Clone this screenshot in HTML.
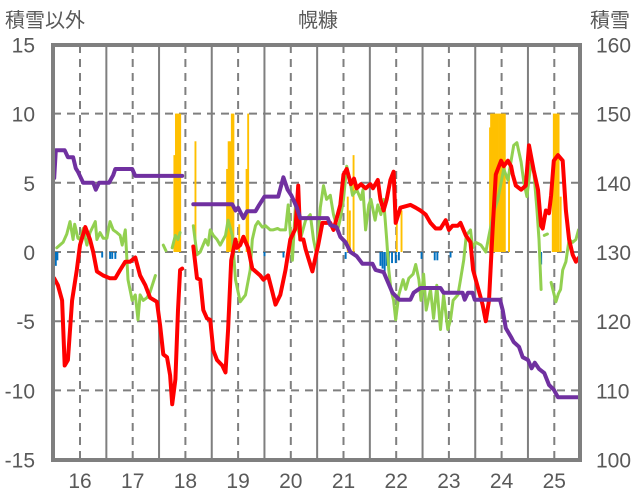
<!DOCTYPE html>
<html><head><meta charset="utf-8">
<style>
html,body{margin:0;padding:0;background:#fff;}
svg{display:block;font-family:"Liberation Sans","Noto Sans CJK JP",sans-serif;}
</style></head>
<body>
<svg id="chart" width="636" height="501" viewBox="0 0 636 501" xmlns="http://www.w3.org/2000/svg">
<defs><clipPath id="pc"><rect x="53" y="45" width="527" height="415"/></clipPath></defs>
<g id="grid"></g>
<g id="marks" clip-path="url(#pc)"></g>
<rect x="53" y="45" width="527" height="415" fill="none" stroke="#7f7f7f" stroke-width="4"/>
<g id="labels"></g>
<text x="5" y="27" font-size="20" fill="#595959">積雪以外</text>
<text x="318" y="27" font-size="20" fill="#595959" text-anchor="middle">幌糠</text>
<text x="590" y="27" font-size="20" fill="#595959">積雪</text>
</svg>
<script>
const yearTicks=[16,17,18,19,20,21,22,23,24,25];
const leftTicks=[15,10,5,0,-5,-10,-15];
const rightTicks=[160,150,140,130,120,110,100];
const redT=[15.51,15.58,15.66,15.71,15.77,15.85,15.94,16.00,16.10,16.19,16.25,16.32,16.44,16.57,16.67,16.76,16.86,16.95,17.05,17.14,17.24,17.33,17.46,17.52,17.58,17.65,17.71,17.75,17.81,17.86,17.90,17.94,null,
18.15,18.22,18.28,18.34,18.41,18.47,18.53,18.60,18.70,18.76,18.81,18.87,18.95,18.98,19.04,19.10,19.19,19.27,19.42,19.48,19.57,19.65,19.71,19.80,19.90,19.99,20.09,20.14,20.18,20.24,20.28,20.41,20.52,20.60,20.75,20.81,20.89,20.94,21.00,21.06,21.14,21.20,21.25,21.33,21.42,21.51,21.56,21.65,21.70,21.76,21.82,21.89,21.95,21.99,22.08,22.27,22.37,22.46,22.56,22.65,22.75,22.84,22.94,23.00,23.07,23.17,23.22,23.32,23.41,23.46,23.56,23.64,23.70,23.76,23.83,23.89,23.99,24.04,24.12,24.18,24.21,24.27,24.37,24.46,24.52,24.61,24.69,24.75,24.78,24.84,24.90,24.94,24.99,25.07,25.16,25.22,25.28,25.35,25.41,25.51];
const redV=[-1.9,-2.4,-3.5,-8.2,-7.8,-3.5,-1.3,0.5,1.8,0.9,0,-1.4,-1.7,-1.9,-1.9,-1.3,-0.7,-0.7,-0.4,-1.7,-2.4,-3.3,-3.6,-5.3,-7.4,-7.6,-8.9,-11.0,-9.2,-4.2,-1.3,-1.2,null,
0.4,-1.9,-2.0,-4.2,-4.8,-4.9,-7.1,-7.8,-8.2,-8.7,-5.6,-0.6,0.9,0.3,0.5,1.1,0.3,-1.2,-1.7,-2.0,-1.7,-2.9,-3.8,-3.1,-1.3,0.9,1.7,4.8,0.9,0.9,0.2,-1.4,0.5,2.1,2.1,1.6,2.7,3.4,5.6,6.0,4.9,5.3,4.6,4.9,4.6,4.9,4.6,5.2,3.8,3.0,3.8,5.2,5.8,2.1,3.2,3.4,3.2,3.0,2.7,2.1,1.7,1.7,2.3,1.6,1.9,1.9,2.1,1.2,0.7,-1.3,-2.7,-3.8,-5.0,-3.5,1.6,5.6,6.6,6.2,6.6,6.2,5.6,4.8,4.5,4.8,7.7,5.9,4.5,1.9,1.7,3.0,2.8,4.1,6.6,7.0,6.6,3.0,0.9,-0.2,-0.7,-0.2];
const greenT=[15.56,15.68,15.75,15.81,15.87,15.90,15.96,16.00,16.06,16.13,16.19,16.29,16.32,16.38,16.44,16.51,16.57,16.63,16.70,16.76,16.80,16.86,16.91,16.99,17.05,17.10,17.14,17.20,17.27,17.33,17.43,null,17.58,17.63,null,17.75,17.81,17.86,17.90,null,
18.15,18.22,18.28,18.38,18.43,18.47,18.53,18.60,18.66,18.76,18.81,18.89,18.95,19.04,19.14,19.23,19.27,19.33,19.38,19.46,19.52,19.61,19.66,19.75,19.80,19.90,19.95,20.03,20.09,20.14,20.18,20.28,20.37,20.43,20.49,20.56,20.62,20.68,20.75,20.81,20.89,20.94,21.00,21.06,21.12,21.17,21.25,21.33,21.37,21.42,21.48,21.52,21.60,21.65,21.71,21.76,21.82,21.86,21.90,21.95,21.99,22.05,22.13,22.18,22.24,22.32,22.37,22.43,22.47,22.52,22.57,22.65,22.71,22.77,22.84,22.90,22.98,23.03,23.08,23.17,23.22,23.28,23.33,23.41,23.45,23.51,23.61,23.70,23.76,23.85,23.93,24.04,24.12,24.18,24.23,24.29,24.37,24.42,24.48,24.56,24.61,24.67,24.71,24.75,null,24.81,24.87,null,24.94,25.03,25.08,25.12,25.16,25.22,25.28,25.35,25.41,25.46];
const greenV=[0.3,0.7,1.3,2.2,0.9,2.0,1.0,0.9,1.7,0.5,1.4,2.2,0.9,1.4,1.0,1.0,2.2,1.6,1.4,1.2,0.5,1.6,-2.0,-3.5,-3.1,-4.9,-3.1,-3.5,-3.3,-2.9,-1.7,null,0.5,0.1,null,0.3,1.2,0.9,1.4,null,
1.9,-0.2,0,0.9,0.5,1.6,1.2,0.9,0.5,1.2,2.3,1.2,-2.0,-3.6,-3.1,-1.3,0.9,1.9,2.2,1.8,1.9,1.6,1.6,1.7,1.6,1.6,3.4,-0.6,3.4,1.6,0.9,2.3,2.7,0.9,-0.2,3.2,4.8,3.8,4.1,2.7,1.6,2.4,3.8,6.2,5.2,4.1,4.5,3.8,4.5,1.6,3.4,3.8,2.3,3.4,2.7,3.8,0.9,-1.3,-2.7,-3.5,-4.9,-3.1,-2.0,-2.7,-1.9,-1.6,-0.9,-2.0,-3.5,-1.6,-4.2,-2.7,-4.8,-2.4,-5.6,-3.1,-5.6,-4.9,-3.5,-3.1,-2.0,-0.6,1.2,1.6,0.3,0.7,0.5,0.0,1.2,2.9,3.8,6.0,5.2,6.6,7.7,7.9,6.5,5.1,4.0,6.5,5.9,3.1,0.9,-2.7,null,1.2,1.3,null,-2.2,-3.6,-3.0,-2.7,-1.3,-0.7,0.9,0.7,0.9,1.6];
const snowT=[15.51,15.54,15.71,15.77,15.87,15.92,15.96,16.06,16.25,16.30,16.36,16.55,16.63,16.67,16.99,17.05,17.94,null,18.15,18.89,18.95,19.00,19.10,19.17,19.33,19.40,19.50,19.76,19.86,19.94,20.01,20.11,20.18,20.70,20.75,20.87,20.94,21.04,21.13,21.25,21.36,21.55,21.61,21.76,21.84,21.93,22.06,22.27,22.33,22.46,22.84,22.90,23.26,23.30,23.36,23.45,23.49,23.97,24.02,24.08,24.18,24.23,24.33,24.40,24.50,24.57,24.63,24.71,24.81,24.90,24.99,25.07,25.51];
const snowV=[140.7,144.7,144.7,143.7,143.7,142.1,141.6,140,140,139,140,140,141.1,142,142,141,141,null,136.9,136.9,136,136.4,134.9,135.9,135.9,136.8,138,138,140.8,139,138.2,136.5,134.9,134.9,133.9,133.6,132.2,131.4,130,129.4,128.3,128.3,127.4,127.1,125.7,124.1,123.1,123.1,124.1,124.8,124.8,124.1,124.1,123.1,124.1,124.1,123.1,123.1,121.6,119,117.7,117,116.3,114.8,114.4,113.2,114,113.1,112.5,110.8,110.1,109,109];
const orangeT=[17.79,17.82,17.84,17.87,17.90,18.19,18.79,18.82,18.85,18.88,18.91,19.02,19.16,19.19,21.08,21.12,21.19,22.01,22.10,23.78,23.80,23.83,23.86,23.89,23.92,23.95,23.98,24.00,24.03,24.06,24.14,24.97,24.99,25.02,25.05,25.08,25.12];
const orangeV=[7,10,10,10,10,8,6,8,8,10,10,2,6,10,4,3,7,3,3,9,10,10,10,10,10,10,10,10,10,10,6,6,10,10,10,10,4];
const blueT=[15.54,15.57,16.42,16.57,16.61,16.67,19.50,19.86,21.04,21.70,21.74,21.78,21.82,21.86,21.92,21.99,22.05,22.48,22.73,22.78,23.03,24.75];
const blueV=[-1.0,-0.6,-0.4,-0.5,-0.5,-0.5,-0.3,-0.4,-0.5,-1.0,-1.2,-1.5,-1.0,-1.5,-0.8,-0.8,-0.6,-0.5,-0.6,-0.6,-0.4,-0.9];

const NS='http://www.w3.org/2000/svg';
const L=53,R=580,T=45,B=460;
function xs(t){return 80+(t-16)*52.7;}
function yl(v){return 252-v*13.84;}
function yr(v){return yl((v-130)/2);}
function mk(tag,attrs,parent){const e=document.createElementNS(NS,tag);for(const k in attrs)e.setAttribute(k,attrs[k]);parent.appendChild(e);return e;}
const grid=document.getElementById('grid'),marks=document.getElementById('marks'),labels=document.getElementById('labels');
// horizontal gridlines
leftTicks.forEach(v=>{const y=yl(v);if(v!==15&&v!==-15){const g=mk('line',{x1:L,x2:R,y1:y,y2:y,stroke:'#7f7f7f','stroke-width':2,'stroke-dasharray':'8,6'},grid);

}
const t=mk('text',{x:35,y:y+8,'font-size':21,fill:'#595959','text-anchor':'end'},labels);t.textContent=v;

});
rightTicks.forEach(v=>{const t=mk('text',{x:596,y:yr(v)+8,'font-size':21,fill:'#595959'},labels);t.textContent=v;

});
yearTicks.forEach(yv=>{const x=xs(yv);const g=mk('line',{x1:x,x2:x,y1:T,y2:B,stroke:'#7f7f7f','stroke-width':2,'stroke-dasharray':'8,6'},grid);


const xm=xs(yv+0.5);if(xm<R-2){const s=mk('line',{x1:xm,x2:xm,y1:T,y2:B,stroke:'#7f7f7f','stroke-width':2},grid);

}
const t=mk('text',{x:x,y:488,'font-size':21,fill:'#595959','text-anchor':'middle'},labels);t.textContent=yv;

});
// bars
orangeT.forEach((t,i)=>{const y=yl(orangeV[i]);const r=mk('rect',{x:xs(t)-0.9,y:y,width:1.9,height:yl(0)-y,fill:'#ffc000'},marks);

});
blueT.forEach((t,i)=>{const y0=yl(0);const r=mk('rect',{x:xs(t)-0.9,y:y0,width:1.9,height:yl(blueV[i])-y0,fill:'#0070c0'},marks);

});
function line(ts,vs,yf,color,w,name){let d='',pen=false;ts.forEach((t,i)=>{if(t===null||vs[i]===null){pen=false;return;}d+=(pen?'L':'M')+xs(t).toFixed(1)+' '+yf(vs[i]).toFixed(1)+' ';pen=true;});
const p=mk('path',{d:d,fill:'none',stroke:color,'stroke-width':w,'stroke-linejoin':'round','stroke-linecap':'round'},marks);

}
line(greenT,greenV,yl,'#92d050',3,'green-series-line');
line(redT,redV,yl,'#ff0000',4,'red-series-line');
line(snowT,snowV,yr,'#7030a0',4,'snow-depth-line');
</script>
</body></html>
